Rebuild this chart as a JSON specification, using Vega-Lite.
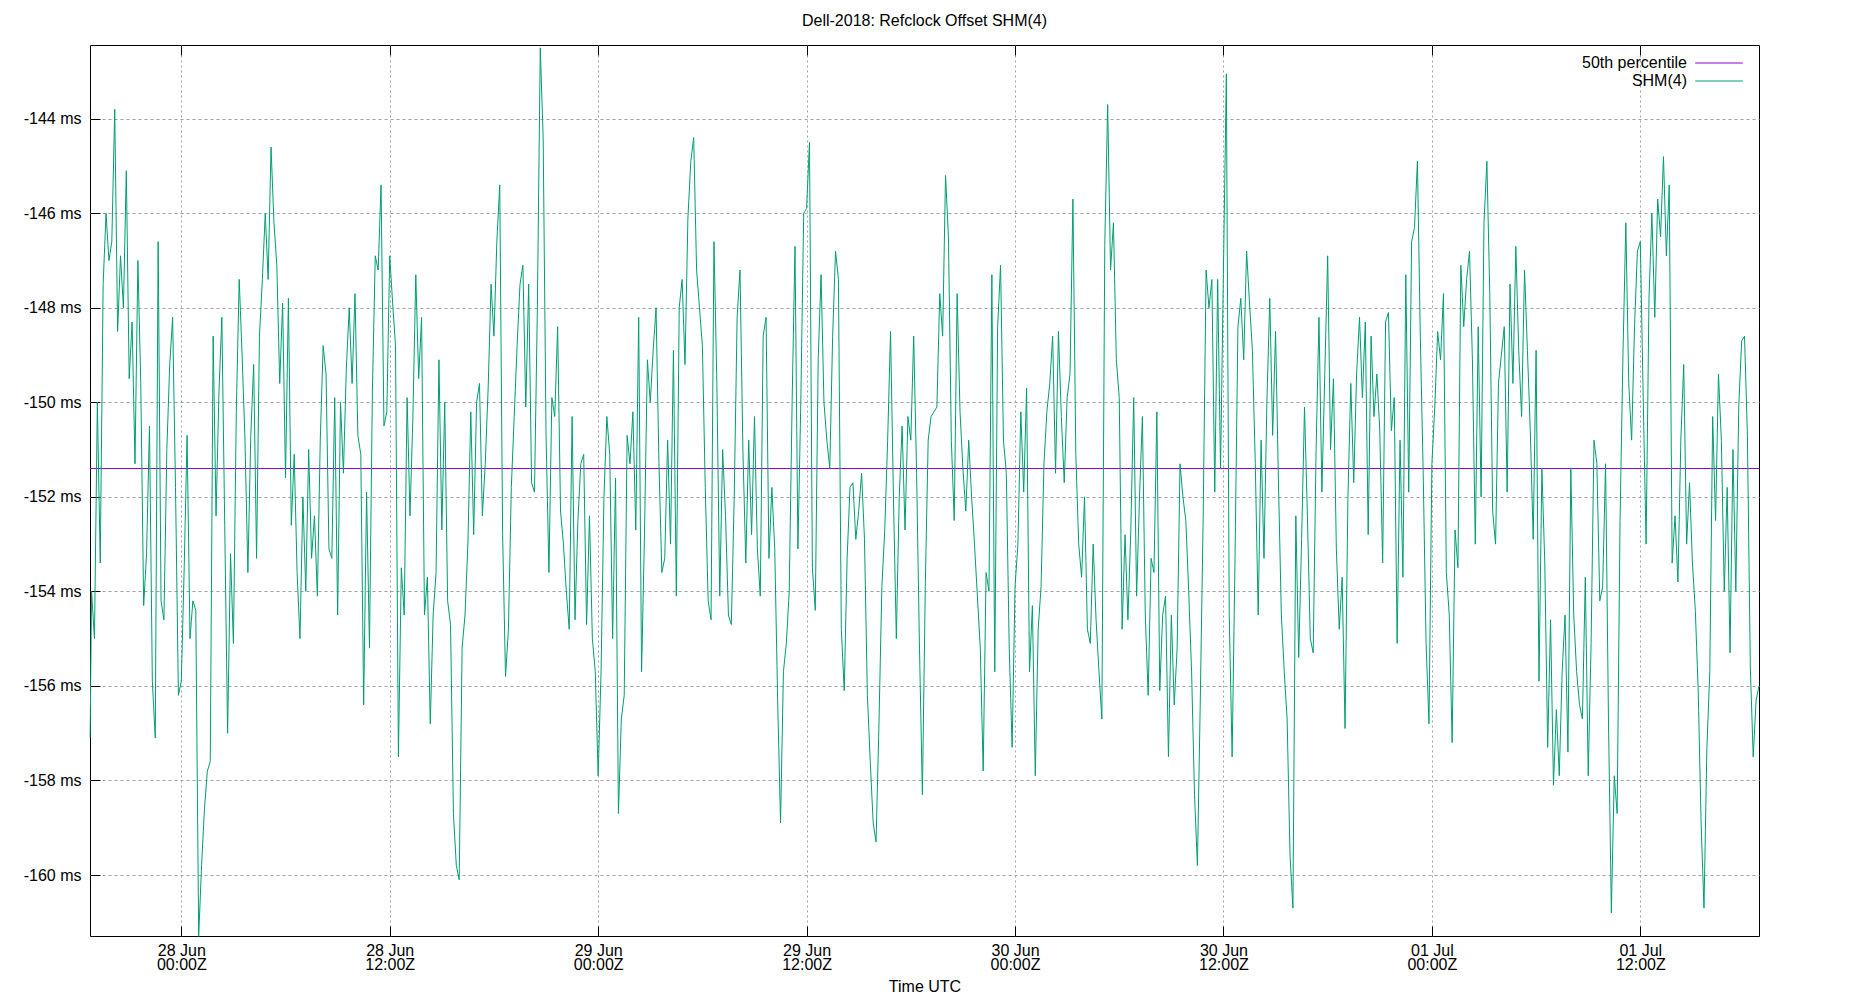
{
"$schema": "https://vega.github.io/schema/vega-lite/v6.json",
"width": 1669, "height": 891,
"autosize": {"type": "none"},
"padding": {"left": 90, "top": 45, "right": 91, "bottom": 64},
"background": "white",
"title": {"text": "Dell-2018: Refclock Offset SHM(4)", "fontSize": 16, "fontWeight": "normal", "color": "black", "offset": 16},
"config": {"view": {"stroke": "black", "strokeWidth": 1}, "font": "Liberation Sans"},
"layer": [
{
"data": {"values": [{"t":"2018-06-27 18:44","v":-151.4},{"t":"2018-07-01 18:50","v":-151.4}], "format": {"parse": {"t": "utc:'%Y-%m-%d %H:%M'"}}},
"mark": {"type": "line", "strokeWidth": 1},
"encoding": {
"x": {"field": "t", "type": "temporal",
"axis": {"orient": "top", "tickCount": 8, "labels": false, "grid": false, "domain": false, "tickColor": "black", "tickSize": 10, "offset": -10, "title": null}},
"y": {"field": "v", "type": "quantitative"},
"color": {"datum": "50th percentile", "type": "nominal", "scale": {"domain": ["50th percentile", "SHM(4)"], "range": ["#9400d3", "#009e73"]},
"legend": {"orient": "none", "legendX": 1621, "legendY": 10, "title": null, "symbolType": "M-3.4,0H3.4", "symbolSize": 196, "symbolStrokeWidth": 1, "labelAlign": "right", "labelOffset": -40, "labelFontSize": 16, "labelColor": "black"}}
}
},
{
"data": {"values": [
{"t":"2018-06-27 18:45","v":-157.1},{"t":"2018-06-27 18:50","v":-154.0},{"t":"2018-06-27 19:00","v":-155.0},{"t":"2018-06-27 19:10","v":-150.0},{"t":"2018-06-27 19:20","v":-153.4},{"t":"2018-06-27 19:30","v":-147.5},{"t":"2018-06-27 19:40","v":-146.0},{"t":"2018-06-27 19:50","v":-147.0},
{"t":"2018-06-27 20:00","v":-146.6},{"t":"2018-06-27 20:10","v":-143.8},{"t":"2018-06-27 20:20","v":-148.5},{"t":"2018-06-27 20:30","v":-146.9},{"t":"2018-06-27 20:40","v":-148.0},{"t":"2018-06-27 20:50","v":-145.1},
{"t":"2018-06-27 21:00","v":-149.5},{"t":"2018-06-27 21:10","v":-148.3},{"t":"2018-06-27 21:20","v":-151.3},{"t":"2018-06-27 21:30","v":-147.0},{"t":"2018-06-27 21:40","v":-149.6},{"t":"2018-06-27 21:50","v":-154.3},
{"t":"2018-06-27 22:00","v":-153.2},{"t":"2018-06-27 22:10","v":-150.5},{"t":"2018-06-27 22:20","v":-155.9},{"t":"2018-06-27 22:30","v":-157.1},{"t":"2018-06-27 22:40","v":-146.6},{"t":"2018-06-27 22:50","v":-154.2},
{"t":"2018-06-27 23:00","v":-154.6},{"t":"2018-06-27 23:10","v":-151.0},{"t":"2018-06-27 23:20","v":-149.2},{"t":"2018-06-27 23:30","v":-148.2},{"t":"2018-06-27 23:40","v":-151.8},{"t":"2018-06-27 23:50","v":-156.2},
{"t":"2018-06-28 00:00","v":-155.9},{"t":"2018-06-28 00:10","v":-153.5},{"t":"2018-06-28 00:20","v":-150.7},{"t":"2018-06-28 00:30","v":-155.0},{"t":"2018-06-28 00:40","v":-154.2},{"t":"2018-06-28 00:50","v":-154.4},
{"t":"2018-06-28 01:00","v":-161.3},{"t":"2018-06-28 01:10","v":-159.8},{"t":"2018-06-28 01:20","v":-158.6},{"t":"2018-06-28 01:30","v":-157.8},{"t":"2018-06-28 01:40","v":-157.6},{"t":"2018-06-28 01:50","v":-148.6},
{"t":"2018-06-28 02:00","v":-152.4},{"t":"2018-06-28 02:10","v":-149.8},{"t":"2018-06-28 02:20","v":-148.2},{"t":"2018-06-28 02:30","v":-152.6},{"t":"2018-06-28 02:40","v":-157.0},{"t":"2018-06-28 02:50","v":-153.2},
{"t":"2018-06-28 03:00","v":-155.1},{"t":"2018-06-28 03:10","v":-150.2},{"t":"2018-06-28 03:20","v":-147.4},{"t":"2018-06-28 03:30","v":-149.0},{"t":"2018-06-28 03:40","v":-150.8},{"t":"2018-06-28 03:50","v":-153.6},
{"t":"2018-06-28 04:00","v":-150.7},{"t":"2018-06-28 04:10","v":-149.2},{"t":"2018-06-28 04:20","v":-153.3},{"t":"2018-06-28 04:30","v":-148.6},{"t":"2018-06-28 04:40","v":-147.4},{"t":"2018-06-28 04:50","v":-146.0},
{"t":"2018-06-28 05:00","v":-147.4},{"t":"2018-06-28 05:10","v":-144.6},{"t":"2018-06-28 05:20","v":-146.2},{"t":"2018-06-28 05:30","v":-147.1},{"t":"2018-06-28 05:40","v":-149.6},{"t":"2018-06-28 05:50","v":-147.9},
{"t":"2018-06-28 06:00","v":-151.6},{"t":"2018-06-28 06:10","v":-147.8},{"t":"2018-06-28 06:20","v":-152.6},{"t":"2018-06-28 06:30","v":-151.1},{"t":"2018-06-28 06:40","v":-153.6},{"t":"2018-06-28 06:50","v":-155.0},
{"t":"2018-06-28 07:00","v":-152.0},{"t":"2018-06-28 07:10","v":-154.0},{"t":"2018-06-28 07:20","v":-151.0},{"t":"2018-06-28 07:30","v":-153.3},{"t":"2018-06-28 07:40","v":-152.4},{"t":"2018-06-28 07:50","v":-154.1},
{"t":"2018-06-28 08:00","v":-150.8},{"t":"2018-06-28 08:10","v":-148.8},{"t":"2018-06-28 08:20","v":-149.4},{"t":"2018-06-28 08:30","v":-153.1},{"t":"2018-06-28 08:40","v":-153.3},{"t":"2018-06-28 08:50","v":-149.9},
{"t":"2018-06-28 09:00","v":-154.5},{"t":"2018-06-28 09:10","v":-150.0},{"t":"2018-06-28 09:20","v":-151.5},{"t":"2018-06-28 09:30","v":-149.3},{"t":"2018-06-28 09:40","v":-148.0},{"t":"2018-06-28 09:50","v":-149.6},
{"t":"2018-06-28 10:00","v":-147.7},{"t":"2018-06-28 10:10","v":-150.7},{"t":"2018-06-28 10:20","v":-151.1},{"t":"2018-06-28 10:30","v":-156.4},{"t":"2018-06-28 10:40","v":-151.9},{"t":"2018-06-28 10:50","v":-155.2},
{"t":"2018-06-28 11:00","v":-149.8},{"t":"2018-06-28 11:10","v":-146.9},{"t":"2018-06-28 11:20","v":-147.2},{"t":"2018-06-28 11:30","v":-145.4},{"t":"2018-06-28 11:40","v":-150.5},{"t":"2018-06-28 11:50","v":-150.2},
{"t":"2018-06-28 12:00","v":-146.9},{"t":"2018-06-28 12:10","v":-147.9},{"t":"2018-06-28 12:20","v":-148.8},{"t":"2018-06-28 12:30","v":-157.5},{"t":"2018-06-28 12:40","v":-153.5},{"t":"2018-06-28 12:50","v":-154.5},
{"t":"2018-06-28 13:00","v":-149.9},{"t":"2018-06-28 13:10","v":-152.4},{"t":"2018-06-28 13:20","v":-150.3},{"t":"2018-06-28 13:30","v":-147.3},{"t":"2018-06-28 13:40","v":-149.5},{"t":"2018-06-28 13:50","v":-148.2},
{"t":"2018-06-28 14:00","v":-154.5},{"t":"2018-06-28 14:10","v":-153.7},{"t":"2018-06-28 14:20","v":-156.8},{"t":"2018-06-28 14:30","v":-154.5},{"t":"2018-06-28 14:40","v":-153.6},{"t":"2018-06-28 14:50","v":-149.1},
{"t":"2018-06-28 15:00","v":-152.7},{"t":"2018-06-28 15:10","v":-150.0},{"t":"2018-06-28 15:20","v":-154.2},{"t":"2018-06-28 15:30","v":-154.7},{"t":"2018-06-28 15:40","v":-158.7},{"t":"2018-06-28 15:50","v":-159.8},
{"t":"2018-06-28 16:00","v":-160.1},{"t":"2018-06-28 16:10","v":-155.2},{"t":"2018-06-28 16:20","v":-154.5},{"t":"2018-06-28 16:30","v":-153.0},{"t":"2018-06-28 16:40","v":-150.2},{"t":"2018-06-28 16:50","v":-152.8},
{"t":"2018-06-28 17:00","v":-150.0},{"t":"2018-06-28 17:10","v":-149.6},{"t":"2018-06-28 17:20","v":-152.4},{"t":"2018-06-28 17:30","v":-151.3},{"t":"2018-06-28 17:40","v":-149.7},{"t":"2018-06-28 17:50","v":-147.5},
{"t":"2018-06-28 18:00","v":-148.6},{"t":"2018-06-28 18:10","v":-146.6},{"t":"2018-06-28 18:20","v":-145.4},{"t":"2018-06-28 18:30","v":-152.8},{"t":"2018-06-28 18:40","v":-155.8},{"t":"2018-06-28 18:50","v":-154.8},
{"t":"2018-06-28 19:00","v":-151.8},{"t":"2018-06-28 19:10","v":-150.3},{"t":"2018-06-28 19:20","v":-148.8},{"t":"2018-06-28 19:30","v":-147.5},{"t":"2018-06-28 19:40","v":-147.1},{"t":"2018-06-28 19:50","v":-150.1},
{"t":"2018-06-28 20:00","v":-147.5},{"t":"2018-06-28 20:10","v":-151.7},{"t":"2018-06-28 20:20","v":-151.9},{"t":"2018-06-28 20:30","v":-148.0},{"t":"2018-06-28 20:40","v":-142.5},{"t":"2018-06-28 20:50","v":-144.4},
{"t":"2018-06-28 21:00","v":-150.7},{"t":"2018-06-28 21:10","v":-153.6},{"t":"2018-06-28 21:20","v":-149.9},{"t":"2018-06-28 21:30","v":-150.3},{"t":"2018-06-28 21:40","v":-148.4},{"t":"2018-06-28 21:50","v":-152.3},
{"t":"2018-06-28 22:00","v":-153.0},{"t":"2018-06-28 22:10","v":-154.0},{"t":"2018-06-28 22:20","v":-154.8},{"t":"2018-06-28 22:30","v":-150.3},{"t":"2018-06-28 22:40","v":-154.6},{"t":"2018-06-28 22:50","v":-152.5},
{"t":"2018-06-28 23:00","v":-151.3},{"t":"2018-06-28 23:10","v":-151.1},{"t":"2018-06-28 23:20","v":-154.7},{"t":"2018-06-28 23:30","v":-152.4},{"t":"2018-06-28 23:40","v":-155.0},{"t":"2018-06-28 23:50","v":-155.7},
{"t":"2018-06-29 00:00","v":-157.9},{"t":"2018-06-29 00:10","v":-155.7},{"t":"2018-06-29 00:20","v":-152.0},{"t":"2018-06-29 00:30","v":-150.3},{"t":"2018-06-29 00:40","v":-151.1},{"t":"2018-06-29 00:50","v":-155.0},
{"t":"2018-06-29 01:00","v":-151.6},{"t":"2018-06-29 01:10","v":-158.7},{"t":"2018-06-29 01:20","v":-156.7},{"t":"2018-06-29 01:30","v":-156.2},{"t":"2018-06-29 01:40","v":-150.7},{"t":"2018-06-29 01:50","v":-151.3},
{"t":"2018-06-29 02:00","v":-150.2},{"t":"2018-06-29 02:10","v":-152.7},{"t":"2018-06-29 02:20","v":-148.2},{"t":"2018-06-29 02:30","v":-155.7},{"t":"2018-06-29 02:40","v":-152.8},{"t":"2018-06-29 02:50","v":-149.1},
{"t":"2018-06-29 03:00","v":-150.0},{"t":"2018-06-29 03:10","v":-148.9},{"t":"2018-06-29 03:20","v":-148.0},{"t":"2018-06-29 03:30","v":-151.3},{"t":"2018-06-29 03:40","v":-153.6},{"t":"2018-06-29 03:50","v":-153.3},
{"t":"2018-06-29 04:00","v":-150.8},{"t":"2018-06-29 04:10","v":-153.0},{"t":"2018-06-29 04:20","v":-148.9},{"t":"2018-06-29 04:30","v":-154.1},{"t":"2018-06-29 04:40","v":-148.0},{"t":"2018-06-29 04:50","v":-147.4},
{"t":"2018-06-29 05:00","v":-149.2},{"t":"2018-06-29 05:10","v":-146.1},{"t":"2018-06-29 05:20","v":-144.9},{"t":"2018-06-29 05:30","v":-144.4},{"t":"2018-06-29 05:40","v":-147.2},{"t":"2018-06-29 05:50","v":-148.0},
{"t":"2018-06-29 06:00","v":-148.8},{"t":"2018-06-29 06:10","v":-151.8},{"t":"2018-06-29 06:20","v":-154.2},{"t":"2018-06-29 06:30","v":-154.6},{"t":"2018-06-29 06:40","v":-146.6},{"t":"2018-06-29 06:50","v":-149.6},
{"t":"2018-06-29 07:00","v":-154.1},{"t":"2018-06-29 07:10","v":-151.0},{"t":"2018-06-29 07:20","v":-152.4},{"t":"2018-06-29 07:30","v":-154.5},{"t":"2018-06-29 07:40","v":-154.7},{"t":"2018-06-29 07:50","v":-152.0},
{"t":"2018-06-29 08:00","v":-148.2},{"t":"2018-06-29 08:10","v":-147.2},{"t":"2018-06-29 08:20","v":-151.0},{"t":"2018-06-29 08:30","v":-153.4},{"t":"2018-06-29 08:40","v":-150.8},{"t":"2018-06-29 08:50","v":-152.8},
{"t":"2018-06-29 09:00","v":-150.3},{"t":"2018-06-29 09:10","v":-153.1},{"t":"2018-06-29 09:20","v":-154.1},{"t":"2018-06-29 09:30","v":-148.6},{"t":"2018-06-29 09:40","v":-148.2},{"t":"2018-06-29 09:50","v":-153.3},
{"t":"2018-06-29 10:00","v":-151.8},{"t":"2018-06-29 10:10","v":-153.1},{"t":"2018-06-29 10:20","v":-156.3},{"t":"2018-06-29 10:30","v":-158.9},{"t":"2018-06-29 10:40","v":-155.7},{"t":"2018-06-29 10:50","v":-155.1},
{"t":"2018-06-29 11:00","v":-154.0},{"t":"2018-06-29 11:10","v":-150.0},{"t":"2018-06-29 11:20","v":-146.7},{"t":"2018-06-29 11:30","v":-153.1},{"t":"2018-06-29 11:40","v":-150.0},{"t":"2018-06-29 11:50","v":-146.0},
{"t":"2018-06-29 12:00","v":-145.9},{"t":"2018-06-29 12:10","v":-144.5},{"t":"2018-06-29 12:20","v":-153.5},{"t":"2018-06-29 12:30","v":-154.4},{"t":"2018-06-29 12:40","v":-149.1},{"t":"2018-06-29 12:50","v":-147.3},
{"t":"2018-06-29 13:00","v":-150.0},{"t":"2018-06-29 13:10","v":-150.8},{"t":"2018-06-29 13:20","v":-151.4},{"t":"2018-06-29 13:30","v":-148.6},{"t":"2018-06-29 13:40","v":-146.8},{"t":"2018-06-29 13:50","v":-147.4},
{"t":"2018-06-29 14:00","v":-154.8},{"t":"2018-06-29 14:10","v":-156.1},{"t":"2018-06-29 14:20","v":-153.3},{"t":"2018-06-29 14:30","v":-151.8},{"t":"2018-06-29 14:40","v":-151.7},{"t":"2018-06-29 14:50","v":-152.9},
{"t":"2018-06-29 15:00","v":-152.3},{"t":"2018-06-29 15:10","v":-151.5},{"t":"2018-06-29 15:20","v":-152.9},{"t":"2018-06-29 15:30","v":-156.2},{"t":"2018-06-29 15:40","v":-157.6},{"t":"2018-06-29 15:50","v":-158.9},
{"t":"2018-06-29 16:00","v":-159.3},{"t":"2018-06-29 16:10","v":-156.8},{"t":"2018-06-29 16:20","v":-153.9},{"t":"2018-06-29 16:30","v":-152.7},{"t":"2018-06-29 16:40","v":-150.8},{"t":"2018-06-29 16:50","v":-148.5},
{"t":"2018-06-29 17:00","v":-152.0},{"t":"2018-06-29 17:10","v":-155.0},{"t":"2018-06-29 17:20","v":-152.0},{"t":"2018-06-29 17:30","v":-150.5},{"t":"2018-06-29 17:40","v":-152.7},{"t":"2018-06-29 17:50","v":-150.3},
{"t":"2018-06-29 18:00","v":-150.8},{"t":"2018-06-29 18:10","v":-148.6},{"t":"2018-06-29 18:20","v":-151.5},{"t":"2018-06-29 18:30","v":-155.2},{"t":"2018-06-29 18:40","v":-158.3},{"t":"2018-06-29 18:50","v":-153.9},
{"t":"2018-06-29 19:00","v":-150.8},{"t":"2018-06-29 19:10","v":-150.3},{"t":"2018-06-29 19:20","v":-150.2},{"t":"2018-06-29 19:30","v":-150.1},{"t":"2018-06-29 19:40","v":-147.7},{"t":"2018-06-29 19:50","v":-148.6},
{"t":"2018-06-29 20:00","v":-145.2},{"t":"2018-06-29 20:10","v":-146.5},{"t":"2018-06-29 20:20","v":-150.8},{"t":"2018-06-29 20:30","v":-152.5},{"t":"2018-06-29 20:40","v":-147.7},{"t":"2018-06-29 20:50","v":-150.2},
{"t":"2018-06-29 21:00","v":-151.4},{"t":"2018-06-29 21:10","v":-152.3},{"t":"2018-06-29 21:20","v":-150.8},{"t":"2018-06-29 21:30","v":-152.0},{"t":"2018-06-29 21:40","v":-153.0},{"t":"2018-06-29 21:50","v":-154.1},
{"t":"2018-06-29 22:00","v":-155.2},{"t":"2018-06-29 22:10","v":-157.8},{"t":"2018-06-29 22:20","v":-153.6},{"t":"2018-06-29 22:30","v":-154.0},{"t":"2018-06-29 22:40","v":-147.3},{"t":"2018-06-29 22:50","v":-155.7},
{"t":"2018-06-29 23:00","v":-148.4},{"t":"2018-06-29 23:10","v":-147.1},{"t":"2018-06-29 23:20","v":-150.8},{"t":"2018-06-29 23:30","v":-151.5},{"t":"2018-06-29 23:40","v":-155.2},{"t":"2018-06-29 23:50","v":-157.3},
{"t":"2018-06-30 00:00","v":-153.9},{"t":"2018-06-30 00:10","v":-153.0},{"t":"2018-06-30 00:20","v":-150.2},{"t":"2018-06-30 00:30","v":-151.9},{"t":"2018-06-30 00:40","v":-149.7},{"t":"2018-06-30 00:50","v":-155.7},
{"t":"2018-06-30 01:00","v":-154.3},{"t":"2018-06-30 01:10","v":-157.9},{"t":"2018-06-30 01:20","v":-154.8},{"t":"2018-06-30 01:30","v":-153.9},{"t":"2018-06-30 01:40","v":-151.3},{"t":"2018-06-30 01:50","v":-150.2},
{"t":"2018-06-30 02:00","v":-149.6},{"t":"2018-06-30 02:10","v":-148.6},{"t":"2018-06-30 02:20","v":-151.5},{"t":"2018-06-30 02:30","v":-148.5},{"t":"2018-06-30 02:40","v":-150.3},{"t":"2018-06-30 02:50","v":-151.7},
{"t":"2018-06-30 03:00","v":-149.9},{"t":"2018-06-30 03:10","v":-149.4},{"t":"2018-06-30 03:20","v":-145.7},{"t":"2018-06-30 03:30","v":-151.1},{"t":"2018-06-30 03:40","v":-153.0},{"t":"2018-06-30 03:50","v":-153.7},
{"t":"2018-06-30 04:00","v":-152.0},{"t":"2018-06-30 04:10","v":-154.8},{"t":"2018-06-30 04:20","v":-155.1},{"t":"2018-06-30 04:30","v":-153.0},{"t":"2018-06-30 04:40","v":-154.6},{"t":"2018-06-30 04:50","v":-155.7},
{"t":"2018-06-30 05:00","v":-156.7},{"t":"2018-06-30 05:10","v":-146.7},{"t":"2018-06-30 05:20","v":-143.7},{"t":"2018-06-30 05:30","v":-147.2},{"t":"2018-06-30 05:40","v":-146.2},{"t":"2018-06-30 05:50","v":-149.1},
{"t":"2018-06-30 06:00","v":-149.9},{"t":"2018-06-30 06:10","v":-154.8},{"t":"2018-06-30 06:20","v":-152.8},{"t":"2018-06-30 06:30","v":-154.6},{"t":"2018-06-30 06:40","v":-152.7},{"t":"2018-06-30 06:50","v":-149.9},
{"t":"2018-06-30 07:00","v":-154.1},{"t":"2018-06-30 07:10","v":-152.0},{"t":"2018-06-30 07:20","v":-150.3},{"t":"2018-06-30 07:30","v":-154.5},{"t":"2018-06-30 07:40","v":-156.2},{"t":"2018-06-30 07:50","v":-153.3},
{"t":"2018-06-30 08:00","v":-153.6},{"t":"2018-06-30 08:10","v":-150.2},{"t":"2018-06-30 08:20","v":-156.1},{"t":"2018-06-30 08:30","v":-154.5},{"t":"2018-06-30 08:40","v":-154.1},{"t":"2018-06-30 08:50","v":-157.5},
{"t":"2018-06-30 09:00","v":-154.5},{"t":"2018-06-30 09:10","v":-156.4},{"t":"2018-06-30 09:20","v":-155.2},{"t":"2018-06-30 09:30","v":-151.3},{"t":"2018-06-30 09:40","v":-152.0},{"t":"2018-06-30 09:50","v":-152.5},
{"t":"2018-06-30 10:00","v":-154.0},{"t":"2018-06-30 10:10","v":-155.7},{"t":"2018-06-30 10:20","v":-158.3},{"t":"2018-06-30 10:30","v":-159.8},{"t":"2018-06-30 10:40","v":-156.3},{"t":"2018-06-30 10:50","v":-152.4},
{"t":"2018-06-30 11:00","v":-147.2},{"t":"2018-06-30 11:10","v":-148.0},{"t":"2018-06-30 11:20","v":-147.4},{"t":"2018-06-30 11:30","v":-151.9},{"t":"2018-06-30 11:40","v":-147.4},{"t":"2018-06-30 11:50","v":-151.4},
{"t":"2018-06-30 12:00","v":-147.2},{"t":"2018-06-30 12:10","v":-143.05},{"t":"2018-06-30 12:20","v":-154.5},{"t":"2018-06-30 12:30","v":-157.5},{"t":"2018-06-30 12:40","v":-153.3},{"t":"2018-06-30 12:50","v":-148.4},
{"t":"2018-06-30 13:00","v":-147.8},{"t":"2018-06-30 13:10","v":-149.1},{"t":"2018-06-30 13:20","v":-146.8},{"t":"2018-06-30 13:30","v":-147.9},{"t":"2018-06-30 13:40","v":-148.9},{"t":"2018-06-30 13:50","v":-151.3},
{"t":"2018-06-30 14:00","v":-154.5},{"t":"2018-06-30 14:10","v":-150.8},{"t":"2018-06-30 14:20","v":-153.3},{"t":"2018-06-30 14:30","v":-150.0},{"t":"2018-06-30 14:40","v":-147.8},{"t":"2018-06-30 14:50","v":-150.7},
{"t":"2018-06-30 15:00","v":-148.5},{"t":"2018-06-30 15:10","v":-151.7},{"t":"2018-06-30 15:20","v":-154.5},{"t":"2018-06-30 15:30","v":-155.7},{"t":"2018-06-30 15:40","v":-156.7},{"t":"2018-06-30 15:50","v":-159.6},
{"t":"2018-06-30 16:00","v":-160.7},{"t":"2018-06-30 16:10","v":-152.4},{"t":"2018-06-30 16:20","v":-155.4},{"t":"2018-06-30 16:30","v":-152.9},{"t":"2018-06-30 16:40","v":-150.1},{"t":"2018-06-30 16:50","v":-152.4},
{"t":"2018-06-30 17:00","v":-155.0},{"t":"2018-06-30 17:10","v":-155.3},{"t":"2018-06-30 17:20","v":-151.0},{"t":"2018-06-30 17:30","v":-148.2},{"t":"2018-06-30 17:40","v":-151.9},{"t":"2018-06-30 17:50","v":-149.4},
{"t":"2018-06-30 18:00","v":-146.9},{"t":"2018-06-30 18:10","v":-151.0},{"t":"2018-06-30 18:20","v":-149.5},{"t":"2018-06-30 18:30","v":-153.1},{"t":"2018-06-30 18:40","v":-154.8},{"t":"2018-06-30 18:50","v":-153.7},
{"t":"2018-06-30 19:00","v":-156.9},{"t":"2018-06-30 19:10","v":-152.0},{"t":"2018-06-30 19:20","v":-149.6},{"t":"2018-06-30 19:30","v":-151.7},{"t":"2018-06-30 19:40","v":-149.4},{"t":"2018-06-30 19:50","v":-148.2},
{"t":"2018-06-30 20:00","v":-149.9},{"t":"2018-06-30 20:10","v":-148.3},{"t":"2018-06-30 20:20","v":-152.8},{"t":"2018-06-30 20:30","v":-148.6},{"t":"2018-06-30 20:40","v":-150.3},{"t":"2018-06-30 20:50","v":-149.4},
{"t":"2018-06-30 21:00","v":-150.6},{"t":"2018-06-30 21:10","v":-153.4},{"t":"2018-06-30 21:20","v":-148.3},{"t":"2018-06-30 21:30","v":-148.1},{"t":"2018-06-30 21:40","v":-150.6},{"t":"2018-06-30 21:50","v":-149.9},
{"t":"2018-06-30 22:00","v":-155.1},{"t":"2018-06-30 22:10","v":-150.8},{"t":"2018-06-30 22:20","v":-153.7},{"t":"2018-06-30 22:30","v":-147.3},{"t":"2018-06-30 22:40","v":-151.9},{"t":"2018-06-30 22:50","v":-146.6},
{"t":"2018-06-30 23:00","v":-146.3},{"t":"2018-06-30 23:10","v":-144.9},{"t":"2018-06-30 23:20","v":-148.6},{"t":"2018-06-30 23:30","v":-151.5},{"t":"2018-06-30 23:40","v":-155.1},{"t":"2018-06-30 23:50","v":-156.8},
{"t":"2018-07-01 00:00","v":-151.3},{"t":"2018-07-01 00:10","v":-150.1},{"t":"2018-07-01 00:20","v":-148.5},{"t":"2018-07-01 00:30","v":-149.1},{"t":"2018-07-01 00:40","v":-147.7},{"t":"2018-07-01 00:50","v":-153.6},
{"t":"2018-07-01 01:00","v":-154.5},{"t":"2018-07-01 01:10","v":-157.2},{"t":"2018-07-01 01:20","v":-152.7},{"t":"2018-07-01 01:30","v":-153.5},{"t":"2018-07-01 01:40","v":-147.1},{"t":"2018-07-01 01:50","v":-148.4},
{"t":"2018-07-01 02:00","v":-147.4},{"t":"2018-07-01 02:10","v":-146.8},{"t":"2018-07-01 02:20","v":-149.1},{"t":"2018-07-01 02:30","v":-153.0},{"t":"2018-07-01 02:40","v":-148.4},{"t":"2018-07-01 02:50","v":-152.0},
{"t":"2018-07-01 03:00","v":-146.2},{"t":"2018-07-01 03:10","v":-144.9},{"t":"2018-07-01 03:20","v":-147.7},{"t":"2018-07-01 03:30","v":-152.3},{"t":"2018-07-01 03:40","v":-153.0},{"t":"2018-07-01 03:50","v":-149.6},
{"t":"2018-07-01 04:00","v":-149.0},{"t":"2018-07-01 04:10","v":-148.4},{"t":"2018-07-01 04:20","v":-151.9},{"t":"2018-07-01 04:30","v":-147.5},{"t":"2018-07-01 04:40","v":-149.6},{"t":"2018-07-01 04:50","v":-146.7},
{"t":"2018-07-01 05:00","v":-148.9},{"t":"2018-07-01 05:10","v":-150.3},{"t":"2018-07-01 05:20","v":-147.2},{"t":"2018-07-01 05:30","v":-148.9},{"t":"2018-07-01 05:40","v":-150.6},{"t":"2018-07-01 05:50","v":-152.9},
{"t":"2018-07-01 06:00","v":-148.9},{"t":"2018-07-01 06:10","v":-155.9},{"t":"2018-07-01 06:20","v":-151.4},{"t":"2018-07-01 06:30","v":-153.4},{"t":"2018-07-01 06:40","v":-157.3},{"t":"2018-07-01 06:50","v":-154.6},
{"t":"2018-07-01 07:00","v":-158.1},{"t":"2018-07-01 07:10","v":-156.5},{"t":"2018-07-01 07:20","v":-157.9},{"t":"2018-07-01 07:30","v":-155.7},{"t":"2018-07-01 07:40","v":-154.5},{"t":"2018-07-01 07:50","v":-157.4},
{"t":"2018-07-01 08:00","v":-151.4},{"t":"2018-07-01 08:10","v":-154.5},{"t":"2018-07-01 08:20","v":-155.7},{"t":"2018-07-01 08:30","v":-156.4},{"t":"2018-07-01 08:40","v":-156.7},{"t":"2018-07-01 08:50","v":-153.7},
{"t":"2018-07-01 09:00","v":-157.9},{"t":"2018-07-01 09:10","v":-155.1},{"t":"2018-07-01 09:20","v":-150.8},{"t":"2018-07-01 09:30","v":-151.3},{"t":"2018-07-01 09:40","v":-154.2},{"t":"2018-07-01 09:50","v":-153.9},
{"t":"2018-07-01 10:00","v":-151.3},{"t":"2018-07-01 10:10","v":-156.7},{"t":"2018-07-01 10:20","v":-160.8},{"t":"2018-07-01 10:30","v":-157.9},{"t":"2018-07-01 10:40","v":-158.7},{"t":"2018-07-01 10:50","v":-152.5},
{"t":"2018-07-01 11:00","v":-149.0},{"t":"2018-07-01 11:10","v":-146.2},{"t":"2018-07-01 11:20","v":-149.6},{"t":"2018-07-01 11:30","v":-150.8},{"t":"2018-07-01 11:40","v":-148.4},{"t":"2018-07-01 11:50","v":-146.8},
{"t":"2018-07-01 12:00","v":-146.6},{"t":"2018-07-01 12:10","v":-149.9},{"t":"2018-07-01 12:20","v":-153.0},{"t":"2018-07-01 12:30","v":-147.8},{"t":"2018-07-01 12:40","v":-146.0},{"t":"2018-07-01 12:50","v":-148.2},
{"t":"2018-07-01 13:00","v":-145.7},{"t":"2018-07-01 13:10","v":-146.5},{"t":"2018-07-01 13:20","v":-144.8},{"t":"2018-07-01 13:30","v":-146.9},{"t":"2018-07-01 13:40","v":-145.4},{"t":"2018-07-01 13:50","v":-153.4},
{"t":"2018-07-01 14:00","v":-152.4},{"t":"2018-07-01 14:10","v":-153.8},{"t":"2018-07-01 14:20","v":-150.8},{"t":"2018-07-01 14:30","v":-149.2},{"t":"2018-07-01 14:40","v":-153.0},{"t":"2018-07-01 14:50","v":-151.7},
{"t":"2018-07-01 15:00","v":-153.4},{"t":"2018-07-01 15:10","v":-154.4},{"t":"2018-07-01 15:20","v":-156.1},{"t":"2018-07-01 15:30","v":-158.9},{"t":"2018-07-01 15:40","v":-160.7},{"t":"2018-07-01 15:50","v":-157.3},
{"t":"2018-07-01 16:00","v":-155.7},{"t":"2018-07-01 16:10","v":-150.3},{"t":"2018-07-01 16:20","v":-152.5},{"t":"2018-07-01 16:30","v":-149.4},{"t":"2018-07-01 16:40","v":-150.8},{"t":"2018-07-01 16:50","v":-154.0},
{"t":"2018-07-01 17:00","v":-151.8},{"t":"2018-07-01 17:10","v":-155.3},{"t":"2018-07-01 17:20","v":-151.0},{"t":"2018-07-01 17:30","v":-154.0},{"t":"2018-07-01 17:40","v":-150.1},{"t":"2018-07-01 17:50","v":-148.7},
{"t":"2018-07-01 18:00","v":-148.6},{"t":"2018-07-01 18:10","v":-150.7},{"t":"2018-07-01 18:20","v":-155.6},{"t":"2018-07-01 18:30","v":-157.5},{"t":"2018-07-01 18:40","v":-156.3},{"t":"2018-07-01 18:50","v":-156.0}
], "format": {"parse": {"t": "utc:'%Y-%m-%d %H:%M'"}}},
"mark": {"type": "line", "strokeWidth": 1},
"encoding": {
"x": {"field": "t", "type": "temporal", "scale": {"type": "utc", "domain": [1530125076000, 1530471000000]},
"axis": {"orient": "bottom", "tickCount": 8, "labelExpr": "[utcFormat(datum.value, '%d %b'), utcFormat(datum.value, '%H:%MZ')]", "labelLineHeight": 14, "grid": true, "gridColor": "#a0a0a0", "gridDash": [2, 3], "domain": false, "tickColor": "black", "tickSize": 10, "offset": -10, "labelPadding": 6, "labelFontSize": 16, "labelColor": "black", "title": "Time UTC", "titleFontSize": 16, "titleFontWeight": "normal", "titleColor": "black", "titlePadding": 6}},
"y": {"field": "v", "type": "quantitative", "scale": {"domain": [-161.29, -142.44], "nice": false, "zero": false},
"axis": {"values": [-160, -158, -156, -154, -152, -150, -148, -146, -144], "labelExpr": "datum.value + ' ms'", "grid": true, "gridColor": "#a0a0a0", "gridDash": [3, 3], "domain": false, "tickColor": "black", "tickSize": 10, "offset": -10, "labelPadding": 9, "labelFontSize": 16, "labelColor": "black", "title": null}},
"color": {"datum": "SHM(4)", "type": "nominal"}
}
}
],
"resolve": {"axis": {"x": "independent"}}
}
